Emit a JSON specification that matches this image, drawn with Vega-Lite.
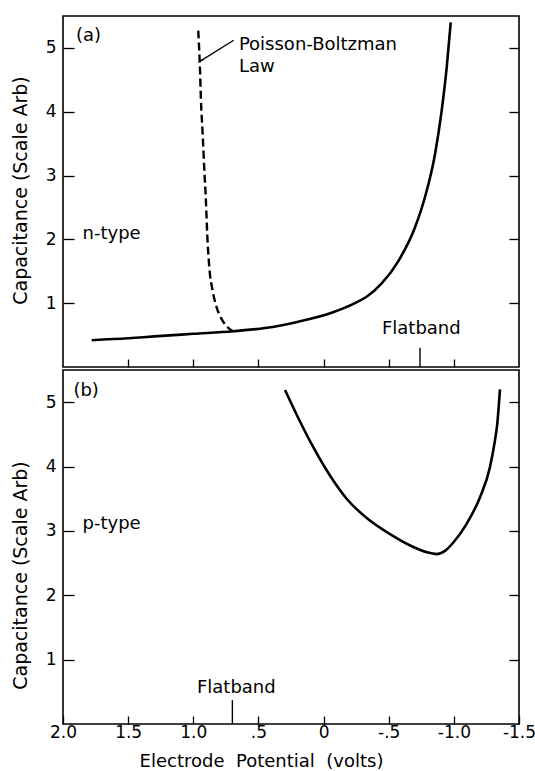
{
  "$schema": "https://vega.github.io/schema/vega-lite/v6.json",
  "background": "white",
  "padding": {"left": 10, "top": 15, "right": 14, "bottom": 0},
  "spacing": 0,
  "config": {
    "view": {"stroke": "black", "strokeWidth": 1.6},
    "font": "DejaVu Sans",
    "axis": {
      "grid": false, "domain": false,
      "labelFont": "DejaVu Sans", "titleFont": "DejaVu Sans",
      "labelColor": "black", "titleColor": "black", "tickColor": "black",
      "titleFontWeight": "normal", "labelFontSize": 17, "titleFontSize": 19,
      "tickWidth": 1.3
    }
  },
  "datasets": {
    "n_solid": [
      {"i": 1, "V": 1.78, "C": 0.42},
      {"i": 2, "V": 1.5, "C": 0.45},
      {"i": 3, "V": 1.3, "C": 0.48},
      {"i": 4, "V": 1.0, "C": 0.52},
      {"i": 5, "V": 0.693, "C": 0.56},
      {"i": 6, "V": 0.45, "C": 0.61},
      {"i": 7, "V": 0.194, "C": 0.71},
      {"i": 8, "V": -0.062, "C": 0.85},
      {"i": 9, "V": -0.241, "C": 1.0},
      {"i": 10, "V": -0.33, "C": 1.1},
      {"i": 11, "V": -0.446, "C": 1.31},
      {"i": 12, "V": -0.574, "C": 1.66},
      {"i": 13, "V": -0.702, "C": 2.19},
      {"i": 14, "V": -0.778, "C": 2.66},
      {"i": 15, "V": -0.855, "C": 3.33},
      {"i": 16, "V": -0.906, "C": 4.01},
      {"i": 17, "V": -0.945, "C": 4.69},
      {"i": 18, "V": -0.976, "C": 5.4}
    ],
    "n_dashed": [
      {"i": 1, "V": 0.962, "C": 5.27},
      {"i": 2, "V": 0.949, "C": 4.69},
      {"i": 3, "V": 0.941, "C": 4.17},
      {"i": 4, "V": 0.928, "C": 3.65},
      {"i": 5, "V": 0.916, "C": 3.12},
      {"i": 6, "V": 0.903, "C": 2.6},
      {"i": 7, "V": 0.893, "C": 2.08},
      {"i": 8, "V": 0.877, "C": 1.56},
      {"i": 9, "V": 0.851, "C": 1.19},
      {"i": 10, "V": 0.82, "C": 0.93},
      {"i": 11, "V": 0.782, "C": 0.75},
      {"i": 12, "V": 0.718, "C": 0.59},
      {"i": 13, "V": 0.693, "C": 0.56}
    ],
    "p_solid": [
      {"i": 1, "V": 0.296, "C": 5.19},
      {"i": 2, "V": 0.181, "C": 4.7},
      {"i": 3, "V": 0.079, "C": 4.3},
      {"i": 4, "V": -0.049, "C": 3.86},
      {"i": 5, "V": -0.177, "C": 3.5},
      {"i": 6, "V": -0.331, "C": 3.2},
      {"i": 7, "V": -0.51, "C": 2.95},
      {"i": 8, "V": -0.689, "C": 2.75},
      {"i": 9, "V": -0.791, "C": 2.67},
      {"i": 10, "V": -0.868, "C": 2.64},
      {"i": 11, "V": -0.932, "C": 2.69},
      {"i": 12, "V": -0.996, "C": 2.82},
      {"i": 13, "V": -1.098, "C": 3.11},
      {"i": 14, "V": -1.2, "C": 3.52},
      {"i": 15, "V": -1.277, "C": 3.99},
      {"i": 16, "V": -1.315, "C": 4.4},
      {"i": 17, "V": -1.333, "C": 4.66},
      {"i": 18, "V": -1.354, "C": 5.2}
    ],
    "labels_a": [
      {"V": 1.9, "C": 5.19, "label": "(a)"},
      {"V": 1.85, "C": 2.08, "label": "n-type"},
      {"V": 0.65, "C": 5.04, "label": "Poisson-Boltzman"},
      {"V": 0.65, "C": 4.7, "label": "Law"},
      {"V": -0.448, "C": 0.6, "label": "Flatband"}
    ],
    "labels_b": [
      {"V": 1.92, "C": 5.17, "label": "(b)"},
      {"V": 1.85, "C": 3.1, "label": "p-type"},
      {"V": 0.972, "C": 0.56, "label": "Flatband"}
    ],
    "flat_a": [{"V": -0.74, "C0": 0, "C1": 0.3}],
    "flat_b": [{"V": 0.7, "C0": 0, "C1": 0.37}],
    "arrow": [{"V1": 0.69, "C1": 5.12, "V2": 0.94, "C2": 4.8}]
  },
  "vconcat": [
    {
      "width": 456,
      "height": 351,
      "resolve": {"axis": {"y": "independent"}},
      "layer": [
        {
          "data": {"name": "n_solid"},
          "mark": {"type": "line", "color": "black", "strokeWidth": 2.6, "interpolate": "monotone"},
          "encoding": {
            "x": {"field": "V", "type": "quantitative",
              "scale": {"domain": [-1.5, 2], "reverse": true, "nice": false, "zero": false},
              "axis": {"values": [1.5, 1, 0.5, 0, -0.5, -1], "labels": false, "tickSize": -8, "title": null}},
            "y": {"field": "C", "type": "quantitative",
              "scale": {"domain": [0, 5.5], "nice": false},
              "axis": {"values": [1, 2, 3, 4, 5], "tickSize": -11, "labelPadding": 18,
                "title": "Capacitance (Scale  Arb)", "titleX": -43, "titleY": 174, "titleAngle": -90,
                "titleBaseline": "middle", "titleAlign": "center"}},
            "order": {"field": "i"}
          }
        },
        {
          "data": {"name": "n_dashed"},
          "mark": {"type": "line", "color": "black", "strokeWidth": 2.4, "strokeDash": [8, 4], "interpolate": "monotone"},
          "encoding": {
            "x": {"field": "V", "type": "quantitative"},
            "y": {"field": "C", "type": "quantitative",
              "axis": {"orient": "right", "values": [1, 2, 3, 4, 5], "labels": false, "tickSize": -10, "title": null}},
            "order": {"field": "i"}
          }
        },
        {
          "data": {"name": "flat_a"},
          "mark": {"type": "rule", "color": "black", "strokeWidth": 1.4},
          "encoding": {
            "x": {"field": "V", "type": "quantitative"},
            "y": {"field": "C0", "type": "quantitative", "axis": null},
            "y2": {"field": "C1"}
          }
        },
        {
          "data": {"name": "arrow"},
          "mark": {"type": "rule", "color": "black", "strokeWidth": 1.3},
          "encoding": {
            "x": {"field": "V1", "type": "quantitative"},
            "x2": {"field": "V2"},
            "y": {"field": "C1", "type": "quantitative", "axis": null},
            "y2": {"field": "C2"}
          }
        },
        {
          "data": {"name": "arrow"},
          "mark": {"type": "point", "shape": "wedge", "filled": true, "color": "black", "size": 60, "angle": 239, "opacity": 1},
          "encoding": {
            "x": {"field": "V2", "type": "quantitative"},
            "y": {"field": "C2", "type": "quantitative", "axis": null}
          }
        },
        {
          "data": {"name": "labels_a"},
          "mark": {"type": "text", "align": "left", "baseline": "middle", "fontSize": 18, "font": "DejaVu Sans", "color": "black"},
          "encoding": {
            "x": {"field": "V", "type": "quantitative"},
            "y": {"field": "C", "type": "quantitative", "axis": null},
            "text": {"field": "label"}
          }
        }
      ]
    },
    {
      "width": 456,
      "height": 354,
      "resolve": {"axis": {"y": "independent"}},
      "layer": [
        {
          "data": {"name": "p_solid"},
          "mark": {"type": "line", "color": "black", "strokeWidth": 2.6, "interpolate": "monotone"},
          "encoding": {
            "x": {"field": "V", "type": "quantitative",
              "scale": {"domain": [-1.5, 2], "reverse": true, "nice": false, "zero": false},
              "axis": {"values": [2, 1.5, 1, 0.5, 0, -0.5, -1, -1.5], "tickSize": -8, "labelPadding": 8,
                "labelFlush": false,
                "labelExpr": "datum.value == 2 ? '2.0' : datum.value == 1.5 ? '1.5' : datum.value == 1 ? '1.0' : datum.value == 0.5 ? '.5' : datum.value == 0 ? '0' : datum.value == -0.5 ? '-.5' : datum.value == -1 ? '-1.0' : '-1.5'",
                "title": "Electrode\u00a0 Potential\u00a0 (volts)", "titleX": 198, "titleY": 37, "titleFontSize": 18,
                "titleBaseline": "middle", "titleAlign": "center"}},
            "y": {"field": "C", "type": "quantitative",
              "scale": {"domain": [0, 5.5], "nice": false},
              "axis": {"values": [1, 2, 3, 4, 5], "tickSize": -11, "labelPadding": 18,
                "title": "Capacitance (Scale  Arb)", "titleX": -43, "titleY": 205, "titleAngle": -90,
                "titleBaseline": "middle", "titleAlign": "center"}},
            "order": {"field": "i"}
          }
        },
        {
          "data": {"name": "flat_b"},
          "mark": {"type": "rule", "color": "black", "strokeWidth": 1.4},
          "encoding": {
            "x": {"field": "V", "type": "quantitative"},
            "y": {"field": "C0", "type": "quantitative",
              "axis": {"orient": "right", "values": [1, 2, 3, 4, 5], "labels": false, "tickSize": -10, "title": null}},
            "y2": {"field": "C1"}
          }
        },
        {
          "data": {"name": "labels_b"},
          "mark": {"type": "text", "align": "left", "baseline": "middle", "fontSize": 18, "font": "DejaVu Sans", "color": "black"},
          "encoding": {
            "x": {"field": "V", "type": "quantitative"},
            "y": {"field": "C", "type": "quantitative", "axis": null},
            "text": {"field": "label"}
          }
        }
      ]
    }
  ]
}
